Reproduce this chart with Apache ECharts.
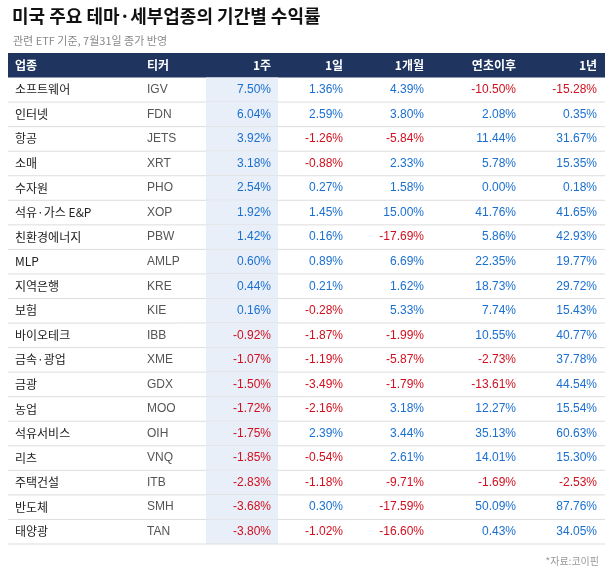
<!DOCTYPE html>
<html><head><meta charset="utf-8">
<script src="https://cdn.jsdelivr.net/npm/echarts@6/dist/echarts.min.js"></script>
<style>html,body{margin:0;padding:0;background:#fff}#c{width:610px;height:571px}</style>
</head><body><div id="c"></div>
<script>
const headers = ['업종','티커','1주','1일','1개월','연초이후','1년'];
const sectors = ['소프트웨어','인터넷','항공','소매','수자원','석유·가스 E&P','친환경에너지','MLP','지역은행','보험','바이오테크','금속·광업','금광','농업','석유서비스','리츠','주택건설','반도체','태양광'];
const tickers = ['IGV','FDN','JETS','XRT','PHO','XOP','PBW','AMLP','KRE','KIE','IBB','XME','GDX','MOO','OIH','VNQ','ITB','SMH','TAN'];
const week1 = [7.50,6.04,3.92,3.18,2.54,1.92,1.42,0.60,0.44,0.16,-0.92,-1.07,-1.50,-1.72,-1.75,-1.85,-2.83,-3.68,-3.80];
const day1 = [1.36,2.59,-1.26,-0.88,0.27,1.45,0.16,0.89,0.21,-0.28,-1.87,-1.19,-3.49,-2.16,2.39,-0.54,-1.18,0.30,-1.02];
const month1 = [4.39,3.80,-5.84,2.33,1.58,15.00,-17.69,6.69,1.62,5.33,-1.99,-5.87,-1.79,3.18,3.44,2.61,-9.71,-17.59,-16.60];
const ytd = [-10.50,2.08,11.44,5.78,0.00,41.76,5.86,22.35,18.73,7.74,10.55,-2.73,-13.61,12.27,35.13,14.01,-1.69,50.09,0.43];
const year1 = [-15.28,0.35,31.67,15.35,0.18,41.65,42.93,19.77,29.72,15.43,40.77,37.78,44.54,15.54,60.63,15.30,-2.53,87.76,34.05];

const cols = [[15,'left'],[147,'left'],[271,'right'],[343,'right'],[424,'right'],[516,'right'],[597,'right']];
const rowsData = [-1].concat(sectors.map((s,i)=>i));
const chart = echarts.init(document.getElementById('c'));
const font = '"Noto Sans CJK KR", sans-serif';
const numFont = '12px "Liberation Sans", Arial, sans-serif';
function fmt(v){return v.toFixed(2)+'%';}
chart.setOption({
  animation:false,
  title:[{text:'미국 주요 테마·세부업종의 기간별 수익률',left:7,top:2,textStyle:{fontSize:18,fontWeight:'bold',color:'#111',fontFamily:font}},
         {text:'관련 ETF 기준, 7월31일 종가 반영',left:8,top:30,textStyle:{fontSize:11,fontWeight:'normal',color:'#888',fontFamily:font}},
         {text:'*자료:코이핀',right:6,top:551,textStyle:{fontSize:10,fontWeight:'normal',color:'#999',fontFamily:font}}],
  grid:{left:0,right:0,top:53,bottom:27},
  xAxis:{type:'value',min:0,max:610,show:false},
  yAxis:{type:'category',data:rowsData.map(String),inverse:true,show:false},
  series:[{type:'custom',data:rowsData.map((r,i)=>[0,i]),
    renderItem:function(params,api){
      const i=api.value(1); const r=rowsData[i];
      const c=api.coord([0,i]); const h=api.size([0,1])[1];
      const top=c[1]-h/2, y=c[1];
      const ch=[];
      const x=v=>api.coord([v,0])[0];
      if(r<0){
        ch.push({type:'rect',shape:{x:x(8),y:top,width:x(605)-x(8),height:h},style:{fill:'#1f3560'}});
        headers.forEach((t,k)=>ch.push({type:'text',style:{text:t,x:x(cols[k][0]),y:y,align:cols[k][1],verticalAlign:'middle',fill:'#fff',font:'bold 12px '+font}}));
      } else {
        ch.push({type:'rect',shape:{x:x(206),y:top,width:x(278)-x(206),height:h},style:{fill:'#e9eff8'}});
        ch.push({type:'line',shape:{x1:x(8),y1:top+h,x2:x(605),y2:top+h},style:{stroke:'#dddddd',lineWidth:1}});
        const vals=[week1[r],day1[r],month1[r],ytd[r],year1[r]];
        ch.push({type:'text',style:{text:sectors[r],x:x(cols[0][0]),y:y,align:'left',verticalAlign:'middle',fill:'#222',font:'12px '+font}});
        ch.push({type:'text',style:{text:tickers[r],x:x(cols[1][0]),y:y,align:'left',verticalAlign:'middle',fill:'#555',font:numFont}});
        vals.forEach((v,k)=>ch.push({type:'text',style:{text:fmt(v),x:x(cols[k+2][0]),y:y,align:'right',verticalAlign:'middle',fill:v<0?'#d0101e':'#1a6fd0',font:numFont}}));
      }
      return {type:'group',children:ch};
    }}]
});
</script></body></html>
